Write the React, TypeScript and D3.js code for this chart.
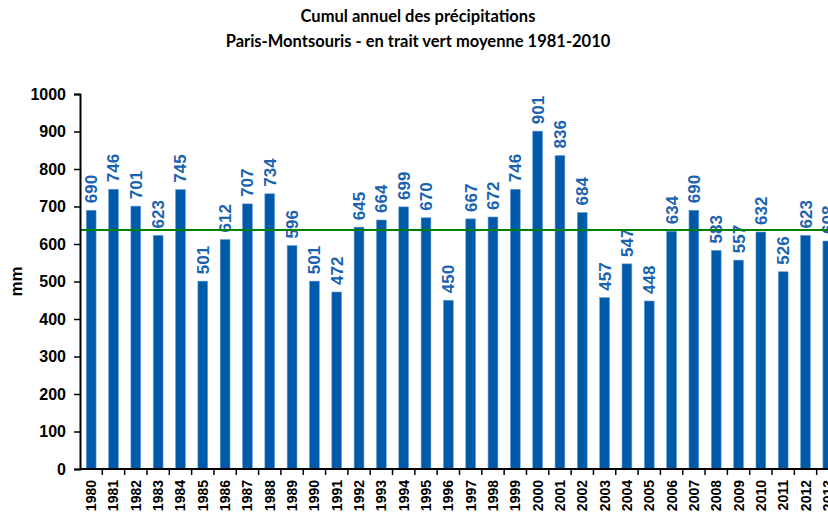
import React, { useEffect, useRef } from 'react';
import * as d3 from 'd3';

const years = [
  '1980', '1981', '1982', '1983', '1984', '1985', '1986', '1987', '1988', '1989',
  '1990', '1991', '1992', '1993', '1994', '1995', '1996', '1997', '1998', '1999',
  '2000', '2001', '2002', '2003', '2004', '2005', '2006', '2007', '2008', '2009',
  '2010', '2011', '2012', '2013',
];
const totals = [
  690, 746, 701, 623, 745, 501, 612, 707, 734, 596,
  501, 472, 645, 664, 699, 670, 450, 667, 672, 746,
  901, 836, 684, 457, 547, 448, 634, 690, 583, 557,
  632, 526, 623, 608,
];
const normal = 637.4; // moyenne 1981-2010
const yTicks = [0, 100, 200, 300, 400, 500, 600, 700, 800, 900, 1000];
const titleLines = ['Cumul annuel des précipitations', 'Paris-Montsouris - en trait vert moyenne 1981-2010'];

const App = () => {
  const ref = useRef<SVGSVGElement>(null);

  useEffect(() => {
    document.body.style.margin = '0';
    const width = 828;
    const left = 80;
    const top = 94;
    const bottom = 469;

    const svg = d3.select(ref.current);
    svg.selectAll('*').remove();

    const x = d3.scaleBand()
      .domain(years)
      .range([left, left + 759])
      .paddingInner(0.56)
      .paddingOuter(0.28);
    const y = d3.scaleLinear().domain([0, 1000]).range([bottom, top]);
    const step = x.step();

    // titre
    svg.append('g')
      .selectAll('text')
      .data(titleLines)
      .join('text')
      .attr('x', 418)
      .attr('y', (d, i) => 22 + i * 25)
      .attr('text-anchor', 'middle')
      .style('font-family', 'Lato, sans-serif')
      .style('font-weight', '700')
      .style('font-size', '16.5px')
      .style('fill', '#000')
      .text(d => d);

    // barres
    svg.append('g')
      .selectAll('rect')
      .data(totals)
      .join('rect')
      .attr('x', (d, i) => x(years[i])!)
      .attr('y', d => y(d))
      .attr('width', x.bandwidth())
      .attr('height', d => bottom - y(d))
      .attr('fill', '#005aaa')
      .attr('stroke', '#6e9fd6')
      .attr('stroke-width', 0.6);

    // valeurs
    svg.append('g')
      .selectAll('text')
      .data(totals)
      .join('text')
      .attr('transform', (d, i) => `translate(${x(years[i])! + x.bandwidth() / 2 + 6},${y(d) - 7}) rotate(-90)`)
      .style('font-family', 'Arial, "Liberation Sans", sans-serif')
      .style('font-weight', '700')
      .style('font-size', '17px')
      .style('fill', '#1a63b0')
      .text(d => d);

    // moyenne
    svg.append('line')
      .attr('x1', left)
      .attr('x2', width)
      .attr('y1', y(normal))
      .attr('y2', y(normal))
      .attr('stroke', '#008000')
      .attr('stroke-width', 2);

    // axe Y
    const yAxis = svg.append('g')
      .attr('transform', `translate(${left},0)`)
      .call(d3.axisLeft(y).tickValues(yTicks).tickFormat(d3.format('d')).tickSize(6).tickPadding(8));
    yAxis.select('.domain').attr('stroke', '#000').attr('stroke-width', 2);
    yAxis.selectAll('.tick line').attr('stroke', '#000').attr('stroke-width', 1.5);
    yAxis.selectAll('.tick text')
      .style('font-family', 'Arial, "Liberation Sans", sans-serif')
      .style('font-weight', '700')
      .style('font-size', '16px')
      .style('fill', '#000');

    // axe X
    svg.append('line')
      .attr('x1', left)
      .attr('x2', width)
      .attr('y1', bottom)
      .attr('y2', bottom)
      .attr('stroke', '#000')
      .attr('stroke-width', 2);
    svg.append('g')
      .selectAll('line')
      .data(years)
      .join('line')
      .attr('x1', d => x(d)! + x.bandwidth() / 2 + step / 2)
      .attr('x2', d => x(d)! + x.bandwidth() / 2 + step / 2)
      .attr('y1', bottom)
      .attr('y2', bottom + 6)
      .attr('stroke', '#000')
      .attr('stroke-width', 1.5);
    svg.append('g')
      .selectAll('text')
      .data(years)
      .join('text')
      .attr('transform', d => `translate(${x(d)! + x.bandwidth() / 2 + 5},${bottom + 11}) rotate(-90)`)
      .attr('text-anchor', 'end')
      .style('font-family', 'Arial, "Liberation Sans", sans-serif')
      .style('font-weight', '700')
      .style('font-size', '14px')
      .style('fill', '#000')
      .text(d => d);

    // titre axe
    svg.append('text')
      .attr('transform', `translate(22,${(top + bottom) / 2}) rotate(-90)`)
      .attr('text-anchor', 'middle')
      .style('font-family', 'Arial, "Liberation Sans", sans-serif')
      .style('font-weight', '700')
      .style('font-size', '17px')
      .style('fill', '#000')
      .text('mm');
  }, []);

  return <svg ref={ref} width={828} height={513} style={{ display: 'block', background: '#fff' }} />;
};

export default App;
